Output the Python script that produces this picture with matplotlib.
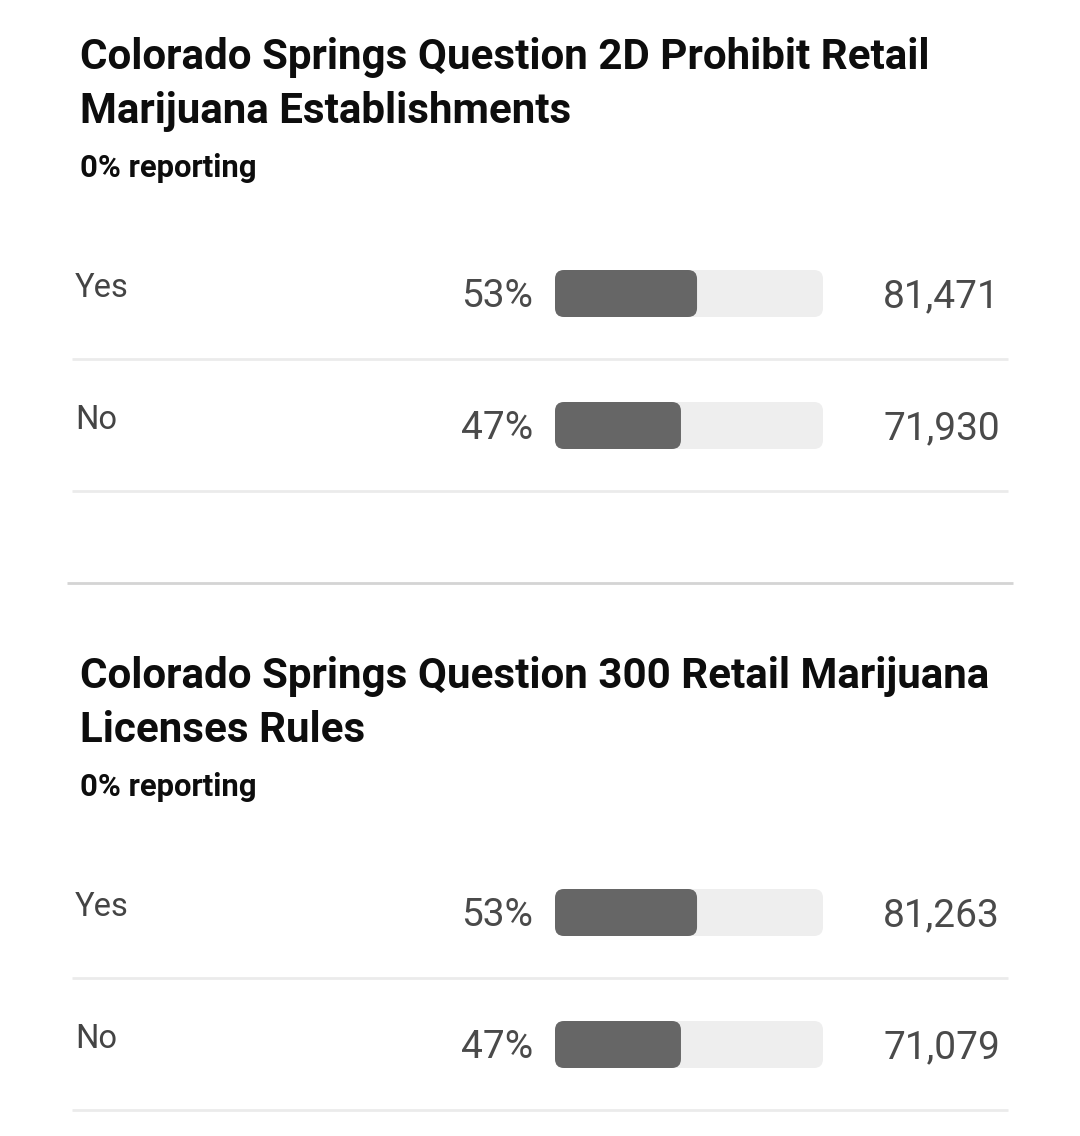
import matplotlib
matplotlib.use("Agg")
import matplotlib.pyplot as plt
from matplotlib.patches import FancyBboxPatch

# Данные
titles = [
    ["Colorado Springs Question 2D Prohibit Retail", "Marijuana Establishments"],
    ["Colorado Springs Question 300 Retail Marijuana", "Licenses Rules"],
]
reporting = ["0% reporting", "0% reporting"]
choices = ["Yes", "No"]
percents = [[53, 47], [53, 47]]
votes = [[81471, 71930], [81263, 71079]]

plt.rcParams['font.family'] = ['Roboto', 'DejaVu Sans']

W, H = 1080, 1136
fig = plt.figure(figsize=(W / 100, H / 100), dpi=100)
ax = fig.add_axes([0, 0, 1, 1])
ax.set_xlim(0, W)
ax.set_ylim(H, 0)
ax.axis('off')

section_step = 619
track_x, track_w, bar_h = 555, 268, 47
row_step = 132

for s in range(len(titles)):
    top = s * section_step
    ax.text(80, top + 69, titles[s][0], fontsize=30.3, fontweight='bold', color='#0d0d0d', va='baseline')
    ax.text(80, top + 123, titles[s][1], fontsize=30.3, fontweight='bold', color='#0d0d0d', va='baseline')
    ax.text(80, top + 177, reporting[s], fontsize=22.4, fontweight='bold', color='#0d0d0d', va='baseline')

    for i, choice in enumerate(choices):
        y = top + 270 + i * row_step
        ax.text(75, y + 27, choice, fontsize=23.5, color='#444444', va='baseline')
        ax.text(533, y + 37, f"{percents[s][i]}%", fontsize=28, color='#4a4a4a', ha='right', va='baseline')
        ax.add_patch(FancyBboxPatch((track_x, y), track_w, bar_h,
                                    boxstyle="round,pad=0,rounding_size=9",
                                    facecolor='#eeeeee', edgecolor='none'))
        ax.add_patch(FancyBboxPatch((track_x, y), track_w * percents[s][i] / 100, bar_h,
                                    boxstyle="round,pad=0,rounding_size=9",
                                    facecolor='#666666', edgecolor='none'))
        ax.text(1000, y + 37, f"{votes[s][i]:,}", fontsize=28, color='#4a4a4a', ha='right', va='baseline')
        ax.plot([72, 1008], [y + 89, y + 89], color='#ebebeb', lw=2, solid_capstyle='butt')

    if s < len(titles) - 1:
        ax.plot([67, 1013], [top + 583, top + 583], color='#d4d4d4', lw=2, solid_capstyle='butt')

fig.savefig("out.png", dpi=100, facecolor='white')
